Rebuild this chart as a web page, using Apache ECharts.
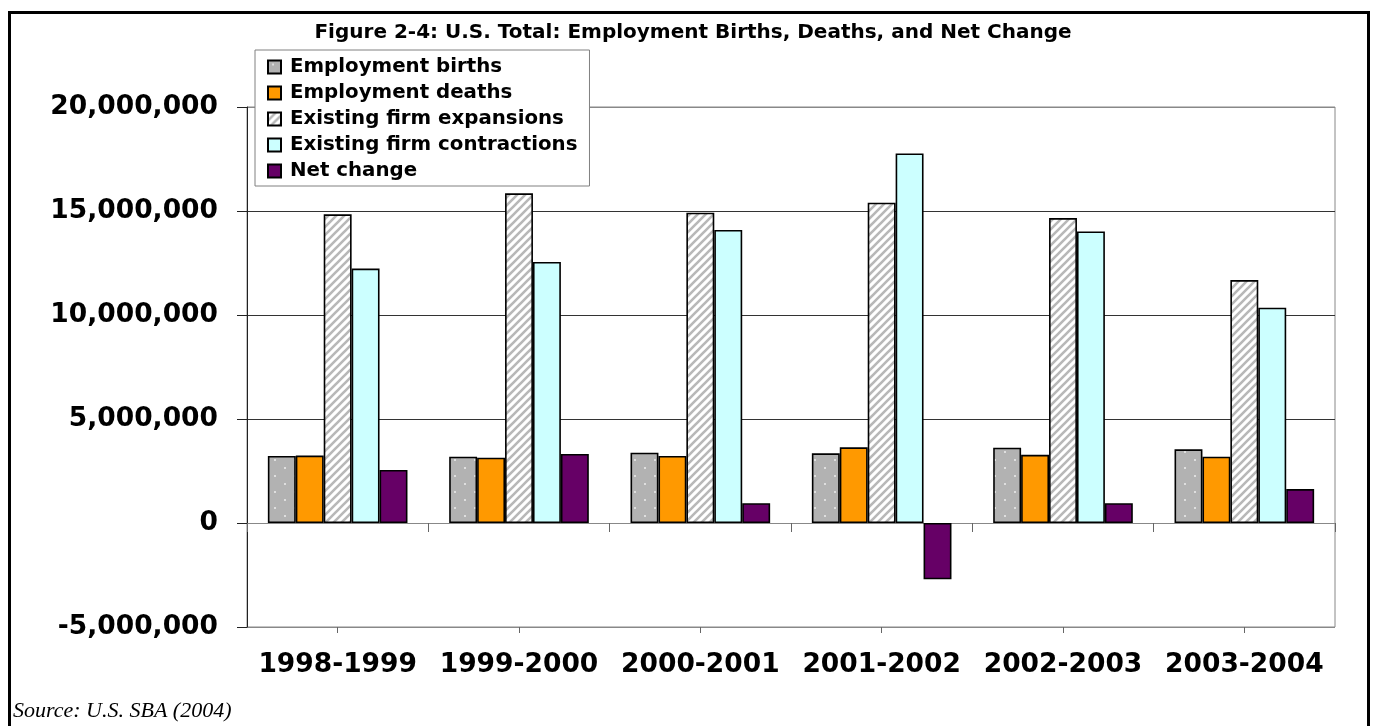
<!DOCTYPE html>
<html>
<head>
<meta charset="utf-8">
<title>U.S. Total: Employment Births, Deaths, and Net Change</title>
<script src="https://cdn.jsdelivr.net/npm/echarts@6/dist/echarts.min.js"></script>
<style>
  html, body { margin: 0; padding: 0; background: #fff; }
  #chart { width: 1375px; height: 726px; }
</style>
</head>
<body>
<div id="chart"></div>
<script>
// Periods on the category axis
const periods = ['1998-1999', '1999-2000', '2000-2001', '2001-2002', '2002-2003', '2003-2004'];

// Employment flows per period (jobs)
const employmentBirths       = [3220000, 3190000, 3380000, 3350000, 3620000, 3540000];
const employmentDeaths       = [3240000, 3140000, 3220000, 3640000, 3280000, 3190000];
const firmExpansions         = [14840000, 15850000, 14920000, 15400000, 14660000, 11680000];
const firmContractions       = [12230000, 12550000, 14090000, 17770000, 14020000, 10350000];
const netChange              = [2550000, 3320000, 950000, -2710000, 950000, 1630000];

// Value axis range
const yMin = -5000000;
const yMax = 20000000;
const yStep = 5000000;

// Fill patterns
function dottedPattern() {
  const c = document.createElement('canvas');
  c.width = 20; c.height = 16;
  const g = c.getContext('2d');
  g.fillStyle = '#b2b2b2';
  g.fillRect(0, 0, 20, 16);
  g.fillStyle = '#ececec';
  [[5, 4], [15, 12]].forEach(([x, y]) => {
    g.beginPath(); g.arc(x, y, 1, 0, Math.PI * 2); g.fill();
  });
  return { image: c, repeat: 'repeat' };
}
function stripedPattern() {
  const c = document.createElement('canvas');
  c.width = 8; c.height = 8;
  const g = c.getContext('2d');
  g.fillStyle = '#ffffff';
  g.fillRect(0, 0, 8, 8);
  g.strokeStyle = '#b8b8b8';
  g.lineWidth = 2.6;
  g.beginPath();
  g.moveTo(-2, 10); g.lineTo(10, -2);
  g.moveTo(-6, 6); g.lineTo(6, -6);
  g.moveTo(2, 14); g.lineTo(14, 2);
  g.stroke();
  return { image: c, repeat: 'repeat' };
}

const wideBold = { fontFamily: 'DejaVu Sans', fontWeight: 'bold', color: '#000' };

function barSeries(name, data, color) {
  return {
    name: name,
    type: 'bar',
    data: data,
    xAxisIndex: 0,
    yAxisIndex: 0,
    barGap: '0%',
    barCategoryGap: '23%',
    itemStyle: { color: color, borderColor: '#000', borderWidth: 1.6 },
    emphasis: { disabled: true }
  };
}

const chart = echarts.init(document.getElementById('chart'), null, { renderer: 'canvas' });

chart.setOption({
  animation: false,
  backgroundColor: '#fff',
  title: {
    text: 'Figure 2-4: U.S. Total: Employment Births, Deaths, and Net Change',
    left: 688,
    textAlign: 'center',
    top: 18,
    textStyle: Object.assign({}, wideBold, { fontSize: 20 })
  },
  graphic: [{
    type: 'rect',
    z: -10,
    silent: true,
    shape: { x: 9.5, y: 12.5, width: 1359, height: 760 },
    style: { fill: 'none', stroke: '#000', lineWidth: 3 }
  }, {
    type: 'text',
    left: 13,
    top: 700,
    silent: true,
    style: {
      text: 'Source: U.S. SBA (2004)',
      font: 'italic 22px "Liberation Serif", "Times New Roman", serif',
      fill: '#000'
    }
  }],
  legend: {
    orient: 'vertical',
    left: 255,
    top: 50,
    backgroundColor: '#fff',
    borderColor: '#808080',
    borderWidth: 1,
    borderRadius: 0,
    padding: [6, 12, 4, 12],
    itemWidth: 13,
    itemHeight: 13,
    itemGap: 4,
    icon: 'rect',
    selectedMode: false,
    textStyle: Object.assign({}, wideBold, { fontSize: 19.8, lineHeight: 22, padding: [0, 0, 0, 4] })
  },
  grid: {
    left: 247,
    right: 40,
    top: 107,
    bottom: 99,
    show: true,
    borderColor: '#888',
    borderWidth: 1,
    backgroundColor: 'transparent'
  },
  xAxis: [{
    // zero line with ticks at category boundaries
    type: 'category',
    data: periods,
    position: 'bottom',
    axisLine: { show: true, onZero: true, lineStyle: { color: '#888', width: 1 } },
    axisTick: { show: true, length: 9, interval: 0, lineStyle: { color: '#666' } },
    axisLabel: { show: false },
    splitLine: { show: false }
  }, {
    // short ticks at category centres
    type: 'category',
    data: periods,
    position: 'bottom',
    axisLine: { show: false, onZero: true },
    axisTick: { show: true, length: 6, alignWithLabel: true, interval: 0, lineStyle: { color: '#666' } },
    axisLabel: { show: false },
    splitLine: { show: false }
  }, {
    // period labels along the bottom of the plot
    type: 'category',
    data: periods,
    position: 'bottom',
    axisLine: { show: false, onZero: false },
    axisTick: { show: false },
    axisLabel: Object.assign({}, wideBold, { show: true, fontSize: 26.5, margin: 25, interval: 0 }),
    splitLine: { show: false }
  }],
  yAxis: {
    type: 'value',
    min: yMin,
    max: yMax,
    interval: yStep,
    axisLine: { show: true, onZero: false, lineStyle: { color: '#222', width: 1 } },
    axisTick: { show: true, length: 10, lineStyle: { color: '#222' } },
    axisLabel: Object.assign({}, wideBold, {
      fontSize: 26.5,
      margin: 29,
      formatter: v => v.toLocaleString('en-US')
    }),
    splitLine: {
      show: true,
      lineStyle: { color: ['#888', '#888', '#333', '#333', '#333', '#888'], width: 1 }
    }
  },
  series: [
    barSeries('Employment births', employmentBirths, dottedPattern()),
    barSeries('Employment deaths', employmentDeaths, '#ff9900'),
    barSeries('Existing firm expansions', firmExpansions, stripedPattern()),
    barSeries('Existing firm contractions', firmContractions, '#ccffff'),
    barSeries('Net change', netChange, '#660066')
  ]
});
</script>
</body>
</html>
